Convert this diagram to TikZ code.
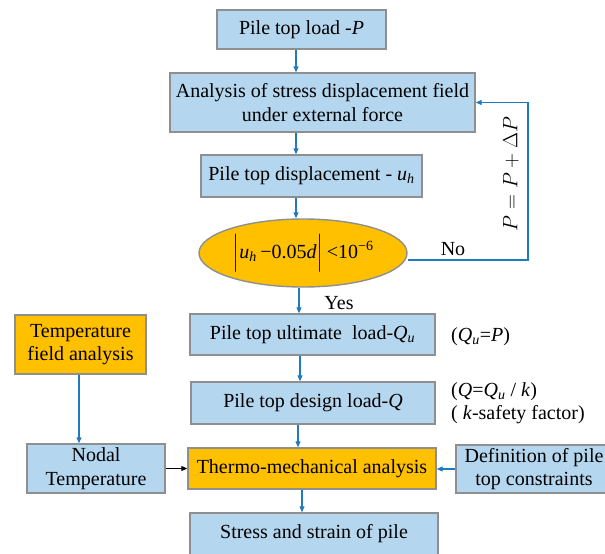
\documentclass[tikz,border=0pt]{standalone}
\usepackage{amsmath}
\usepackage{fontspec}
\setmainfont{Liberation Serif}
\usetikzlibrary{positioning,arrows.meta,shapes.geometric}
\definecolor{boxblue}{HTML}{B4D6EE}
\definecolor{boxorange}{HTML}{FFC000}
\definecolor{boxline}{HTML}{8F8F8F}
\definecolor{flowblue}{HTML}{1F7AC0}

\begin{document}
\begin{tikzpicture}[
  x=1pt, y=-1pt,
  font=\fontsize{20}{23.5}\selectfont,
  stepbox/.style={draw=boxline, line width=1.4pt, rectangle, fill=boxblue, align=center, inner sep=2pt},
  hotbox/.style={stepbox, fill=boxorange},
  flow/.style={-{Triangle[length=6pt,width=5pt]}, line width=1.1pt, draw=flowblue},
  blackflow/.style={-{Triangle[length=6pt,width=5pt]}, line width=1.1pt, draw=black},
]
\useasboundingbox (0,0) rectangle (605,554);

% main chain
\node[stepbox, minimum width=169pt, minimum height=39pt] (load) at (301.5,29.5) {Pile top load -\textit{P}};
\node[stepbox, minimum width=305pt, minimum height=59pt] (field) at (322.5,102.5) {Analysis of stress displacement field\\under external force};
\node[stepbox, minimum width=221pt, minimum height=42pt] (disp) at (311.5,176) {Pile top displacement - \textit{u}\textsubscript{\textit{h}}};
\node[ellipse, draw=boxline, line width=1.4pt, fill=boxorange, minimum width=208pt, minimum height=68pt, inner sep=0pt] (check) at (303,253)
  {$\Bigl|\text{\textit{u}\textsubscript{\textit{h}}\,−0.05\textit{d}}\Bigr|\text{\,<10\textsuperscript{−6}}$};
\node[stepbox, minimum width=245pt, minimum height=41pt] (ult) at (312.5,334.5) {Pile top ultimate\ \ load-\textit{Q}\textsubscript{\textit{u}}};
\node[stepbox, minimum width=244pt, minimum height=42pt] (design) at (313,403) {Pile top design load-\textit{Q}};
\node[hotbox, minimum width=248pt, minimum height=41pt] (thermo) at (312,468.5) {Thermo-mechanical analysis};
\node[stepbox, minimum width=248pt, minimum height=42pt] (result) at (314,534) {Stress and strain of pile};

% side boxes
\node[hotbox, minimum width=131pt, minimum height=59pt] (tfield) at (80.5,344.5) {Temperature\\field analysis};
\node[stepbox, minimum width=138pt, minimum height=49pt] (nodal) at (96,468.5) {Nodal\\Temperature};
\node[stepbox, minimum width=156pt, minimum height=48pt] (bound) at (534,469) {Definition of pile\\top constraints};

% notes
\node[anchor=west, inner sep=0pt] (ultnote) at (451,337) {(\textit{Q}\textsubscript{\textit{u}}=\textit{P})};
\node[anchor=west, inner sep=0pt] (desnote) at (451,392) {(\textit{Q}=\textit{Q}\textsubscript{\textit{u}} / \textit{k})};
\node[anchor=west, inner sep=0pt] (safenote) at (451,415) {( \textit{k}-safety factor)};
\node (yes) at (339,303) {Yes};
\node (no) at (453,249) {No};
\node[rotate=90] (incr) at (511,174) {$P=P+\Delta P$};

% connectors
\draw[flow] ([xshift=-5.5pt]load.south) -- ([xshift=-5.5pt]load.south |- field.north);
\draw[flow] ([xshift=-26.5pt]field.south) -- ([xshift=-26.5pt]field.south |- disp.north);
\draw[flow] ([xshift=-15.5pt]disp.south) -- ([xshift=-15.5pt]disp.south |- check.north);
\draw[flow] ([xshift=-4pt]check.south) -- ([xshift=-4pt]check.south |- ult.north);
\draw[flow] ([xshift=-12.5pt]ult.south) -- ([xshift=-12.5pt]ult.south |- design.north);
\draw[flow] ([xshift=-15pt]design.south) -- ([xshift=-15pt]design.south |- thermo.north);
\draw[flow] ([xshift=-10pt]thermo.south) -- ([xshift=-10pt]thermo.south |- result.north);
\draw[flow] ([xshift=-1.5pt]tfield.south) -- ([xshift=-1.5pt]tfield.south |- nodal.north);
\draw[blackflow] (nodal.east) -- (thermo.west);
\draw[flow] (bound.west) -- (bound.west -| thermo.east);
\draw[flow] ([yshift=-7pt]check.east) -| (528,102.5) -- (field.east);
\end{tikzpicture}
\end{document}
